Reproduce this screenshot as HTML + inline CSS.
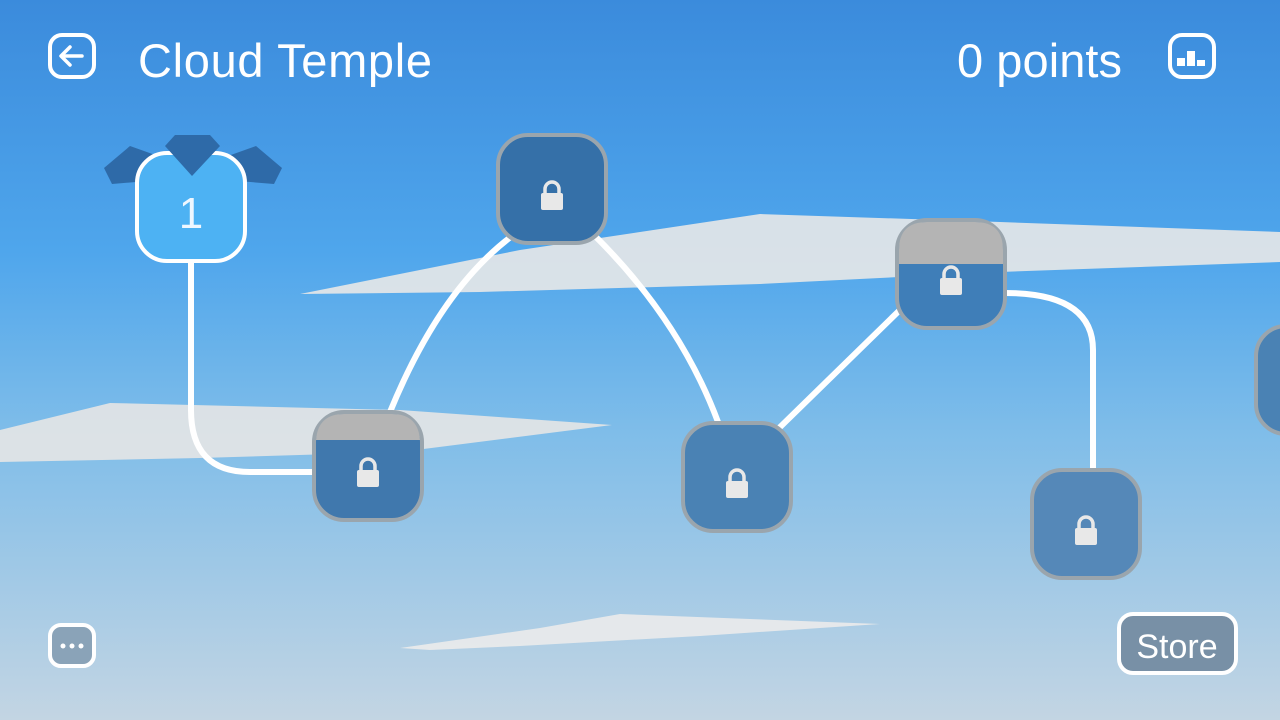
<!DOCTYPE html>
<html><head><meta charset="utf-8"><style>
html,body{margin:0;padding:0;width:1280px;height:720px;overflow:hidden}
text{font-family:"Liberation Sans","DejaVu Sans",sans-serif}
</style></head><body>
<svg width="1280" height="720" viewBox="0 0 1280 720" xmlns="http://www.w3.org/2000/svg">
<defs>
<linearGradient id="bg" x1="0" y1="0" x2="0" y2="1">
<stop offset="0" stop-color="#3b8bdc"/>
<stop offset="0.35" stop-color="#4fa6ec"/>
<stop offset="0.6" stop-color="#7fbde9"/>
<stop offset="1" stop-color="#c3d5e3"/>
</linearGradient>
<g id="lock"><rect x="-11" y="-5" width="22" height="17" rx="2" fill="#e8e8e8"/><path d="M-7,-5 v-4 a7,7 0 0 1 14,0 v4" fill="none" stroke="#e8e8e8" stroke-width="3.5"/></g>
</defs>
<rect width="1280" height="720" fill="url(#bg)"/>
<!-- clouds -->
<polygon points="300,294 520,250 760,214 1000,222 1280,232 1280,262 1000,272 760,284 480,292" fill="#e8e8e8" opacity="0.9"/>
<polygon points="0,430 110,403 400,410 612,425 400,452 200,458 0,462" fill="#e6e6e6" opacity="0.9"/>
<polygon points="400,648 540,628 620,614 880,624 700,636 520,646 430,650" fill="#ebebeb" opacity="0.9"/>
<!-- paths -->
<g fill="none" stroke="#fff" stroke-width="6" stroke-linecap="round">
<path d="M191,261 V410 Q191,472 250,472 H315"/>
<path d="M390,412 Q440,290 512,236"/>
<path d="M594,235 Q680,320 718,422"/>
<path d="M775,432 L905,305"/>
<path d="M1005,293 Q1093,293 1093,350 V472"/>
</g>
<!-- node 1 -->
<polygon points="104,168 130,146 158,156 160,180 112,184" fill="#2e6aa8"/>
<polygon points="282,168 256,146 228,156 226,180 274,184" fill="#2e6aa8"/>
<polygon points="165,146 175,135 210,135 220,146" fill="#2e6aa8"/>
<rect x="137" y="153" width="108" height="108" rx="30" fill="#4db2f3" stroke="#fff" stroke-width="4"/>
<polygon points="165,146 220,146 192,176" fill="#2e6aa8"/>
<text x="191" y="228" font-size="44" fill="#eef7ff" text-anchor="middle">1</text>
<!-- locked nodes -->
<g stroke="#9aa5ad" stroke-width="4">
<rect x="498" y="135" width="108" height="108" rx="30" fill="#3570a8"/>
<rect x="314" y="412" width="108" height="108" rx="30" fill="#4078ad"/>
<rect x="683" y="423" width="108" height="108" rx="30" fill="#4a82b4"/>
<rect x="897" y="220" width="108" height="108" rx="30" fill="#3f7eb8"/>
<rect x="1032" y="470" width="108" height="108" rx="30" fill="#5588b8"/>
<rect x="1256" y="326" width="108" height="108" rx="30" fill="#4a82b4"/>
</g>
<path d="M899,264 H1003 V250 Q1003,222 975,222 H927 Q899,222 899,250 Z" fill="#b4b4b4"/>
<path d="M316,440 H420 Q418,414 392,414 H344 Q318,414 316,440 Z" fill="#b4b4b4"/>
<use href="#lock" x="552" y="198"/>
<use href="#lock" x="368" y="475"/>
<use href="#lock" x="737" y="486"/>
<use href="#lock" x="951" y="283"/>
<use href="#lock" x="1086" y="533"/>
<!-- header -->
<rect x="50" y="35" width="44" height="42" rx="12" fill="none" stroke="#fff" stroke-width="4"/>
<path d="M82,56 H62 M70,47 L61,56 L70,65" fill="none" stroke="#fff" stroke-width="3.5" stroke-linecap="round" stroke-linejoin="round"/>
<text x="138" y="77" font-size="47" fill="#fff" textLength="294">Cloud Temple</text>
<text x="957" y="77" font-size="47" fill="#fff" textLength="165">0 points</text>
<rect x="1170" y="35" width="44" height="42" rx="12" fill="none" stroke="#fff" stroke-width="4"/>
<rect x="1177" y="58" width="8" height="8" fill="#fff"/><rect x="1187" y="51" width="8" height="15" fill="#fff"/><rect x="1197" y="60" width="8" height="6" fill="#fff"/>
<!-- bottom -->
<rect x="50" y="625" width="44" height="41" rx="11" fill="#8aa3b8" stroke="#fff" stroke-width="4"/>
<circle cx="63" cy="646" r="2.5" fill="#fff"/><circle cx="72" cy="646" r="2.5" fill="#fff"/><circle cx="81" cy="646" r="2.5" fill="#fff"/>
<rect x="1119" y="614" width="117" height="59" rx="14" fill="#7890a6" stroke="#fff" stroke-width="4"/>
<text x="1177" y="658" font-size="34" fill="#fff" text-anchor="middle">Store</text>
</svg>
</body></html>
